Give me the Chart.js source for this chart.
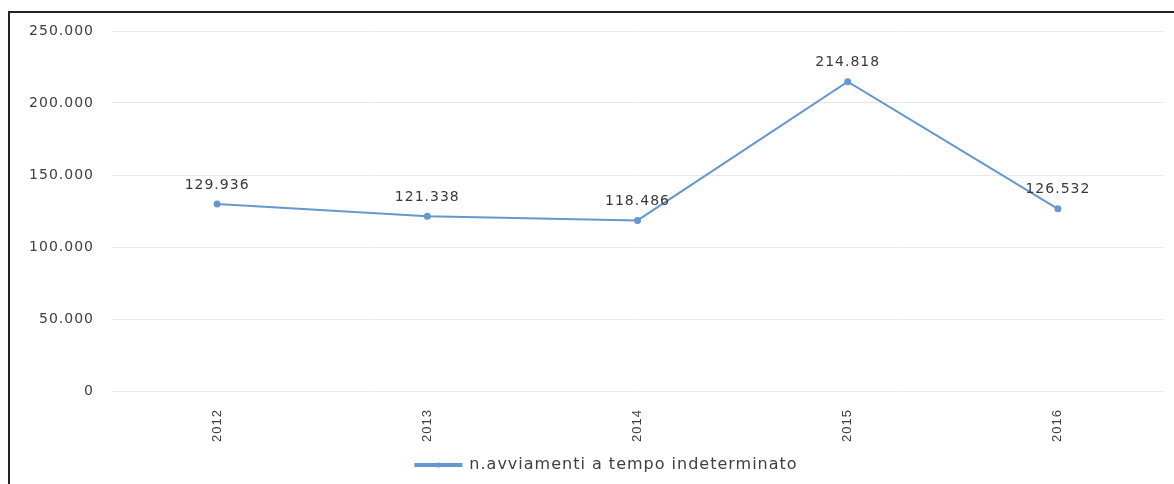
<!DOCTYPE html>
<html>
<head>
<meta charset="utf-8">
<script src="https://cdn.jsdelivr.net/npm/chart.js@4"></script>
<style>
  body { margin: 0; background: #fff; }
  #frame {
    position: absolute; left: 8px; top: 11px; width: 1166px; height: 473px;
    border-left: 2px solid #222; border-top: 2px solid #222; box-sizing: border-box;
  }
  canvas { display: block; }
</style>
</head>
<body>
<div id="frame"><canvas id="chart" width="1164" height="471"></canvas></div>
<script>
const years = ["2012", "2013", "2014", "2015", "2016"];
const avviamenti = [129936, 121338, 118486, 214818, 126532];
const seriesLabel = "n.avviamenti a tempo indeterminato";

const fmt = (v) => String(v).replace(/\B(?=(\d{3})+(?!\d))/g, ".");

const lineColor = "#6698cf";

// the original text is a bit stretched, so space all letters out
const spacing = {
  id: "spacing",
  beforeUpdate(chart) { chart.ctx.letterSpacing = "1px"; },
  beforeDraw(chart) { chart.ctx.letterSpacing = "1px"; },
  afterLayout(chart) {
    // legend sits a little right of centre in the original
    chart.legend.left += 20;
    chart.legend.right += 20;
  },
  afterDraw(chart) {
    // small marker in the middle of the legend line
    const box = chart.legend.legendHitBoxes[0];
    if (!box) return;
    const ctx = chart.ctx;
    ctx.save();
    ctx.fillStyle = lineColor;
    ctx.beginPath();
    ctx.arc(box.left + 23, box.top + box.height / 2, 2.5, 0, Math.PI * 2);
    ctx.fill();
    ctx.restore();
  },
};

const valueLabels = {
  id: "valueLabels",
  afterDatasetsDraw(chart) {
    const ctx = chart.ctx;
    const meta = chart.getDatasetMeta(0);
    ctx.save();
    ctx.font = "14px 'DejaVu Sans'";
    ctx.letterSpacing = "1px";
    ctx.fillStyle = "#3a3a3a";
    ctx.textAlign = "center";
    ctx.textBaseline = "bottom";
    meta.data.forEach((pt, i) => {
      ctx.fillText(fmt(avviamenti[i]), pt.x, pt.y - 12);
    });
    ctx.restore();
  },
};

new Chart(document.getElementById("chart"), {
  type: "line",
  data: {
    labels: years,
    datasets: [
      {
        label: seriesLabel,
        data: avviamenti,
        borderColor: lineColor,
        backgroundColor: lineColor,
        borderWidth: 2,
        pointRadius: 2.5,
        pointStyle: "circle",
        tension: 0,
      },
    ],
  },
  options: {
    responsive: false,
    animation: false,
    layout: { padding: { top: 18, right: 11, bottom: 1, left: 0 } },
    scales: {
      x: {
        offset: true,
        grid: { display: false },
        border: { display: false },
        ticks: {
          minRotation: 90,
          maxRotation: 90,
          padding: 10,
          color: "#404040",
          font: { family: "'Liberation Sans'", size: 13 },
        },
        afterFit(axis) { axis.height = 56; },
      },
      y: {
        min: 0,
        max: 250000,
        grid: { color: "#e8e8e8", drawTicks: false },
        border: { display: false },
        ticks: {
          stepSize: 50000,
          padding: 18,
          color: "#404040",
          font: { family: "'DejaVu Sans'", size: 14 },
          callback: (v) => fmt(v),
        },
        afterFit(axis) {
          axis.width = 102;
          axis.paddingTop = 0;
          axis.paddingBottom = 0;
        },
      },
    },
    plugins: {
      legend: {
        position: "bottom",
        labels: {
          boxWidth: 46,
          boxHeight: 2,
          color: "#404040",
          font: { family: "'DejaVu Sans'", size: 16 },
        },
      },
      tooltip: { enabled: false },
    },
  },
  plugins: [spacing, valueLabels],
});
</script>
</body>
</html>
